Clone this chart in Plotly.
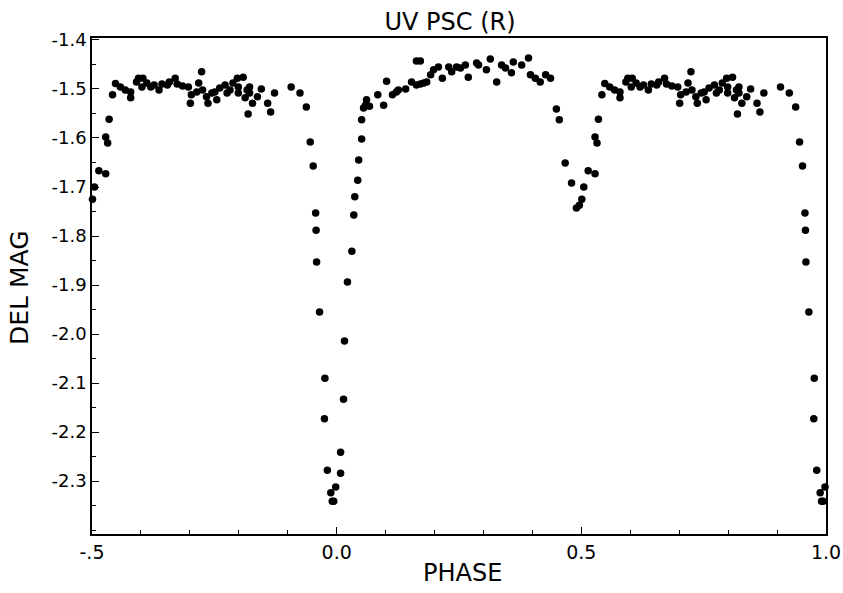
import plotly.graph_objects as go

# Base light-curve data, one cycle (phase -0.5 .. 0.5)
phase = [
    -0.499, -0.495, -0.486, -0.472, -0.472, -0.468, -0.465, -0.458, -0.452,
    -0.442, -0.432, -0.421, -0.421, -0.409, -0.405, -0.398, -0.396, -0.388,
    -0.380, -0.373, -0.363, -0.357, -0.346, -0.342, -0.330, -0.326, -0.315,
    -0.303, -0.299, -0.297, -0.286, -0.282, -0.276, -0.274, -0.266, -0.263,
    -0.255, -0.249, -0.245, -0.239, -0.228, -0.224, -0.218, -0.212, -0.203,
    -0.201, -0.201, -0.191, -0.187, -0.183, -0.181, -0.178, -0.178, -0.172,
    -0.162, -0.154, -0.141, -0.135, -0.127, -0.093, -0.075, -0.062, -0.054,
    -0.048, -0.043, -0.042, -0.041, -0.035, -0.024, -0.025, -0.019, -0.012,
    -0.009, -0.006, -0.002,
    0.008, 0.008, 0.014, 0.016, 0.022, 0.031, 0.035, 0.037, 0.043, 0.045,
    0.051, 0.051, 0.055, 0.059, 0.061, 0.067, 0.084, 0.096, 0.102, 0.114,
    0.122, 0.126, 0.141, 0.153, 0.163, 0.171, 0.163, 0.171, 0.178, 0.184,
    0.192, 0.198, 0.208, 0.216, 0.229, 0.235, 0.245, 0.253, 0.263, 0.269,
    0.286, 0.290, 0.306, 0.314, 0.327, 0.337, 0.345, 0.357, 0.361, 0.378,
    0.392, 0.396, 0.406, 0.416, 0.427, 0.437, 0.449, 0.455, 0.467, 0.480,
    0.490, 0.496,
]
del_mag = [
    -1.725, -1.700, -1.667, -1.673, -1.598, -1.610, -1.562, -1.512, -1.489,
    -1.496, -1.502, -1.518, -1.506, -1.486, -1.478, -1.496, -1.478, -1.488,
    -1.496, -1.492, -1.502, -1.490, -1.492, -1.486, -1.478, -1.490, -1.494,
    -1.496, -1.529, -1.512, -1.506, -1.488, -1.465, -1.502, -1.516, -1.529,
    -1.508, -1.506, -1.522, -1.498, -1.492, -1.508, -1.502, -1.488, -1.478,
    -1.496, -1.508, -1.476, -1.518, -1.502, -1.551, -1.496, -1.508, -1.529,
    -1.516, -1.500, -1.529, -1.547, -1.508, -1.496, -1.508, -1.537, -1.608,
    -1.657, -1.753, -1.788, -1.853, -1.955, -2.090, -2.173, -2.278, -2.324,
    -2.341, -2.341, -2.312,
    -2.284, -2.241, -2.133, -2.014, -1.894, -1.831, -1.757, -1.720, -1.686, -1.645,
    -1.602, -1.563, -1.539, -1.533, -1.522, -1.535, -1.512, -1.533, -1.484, -1.512,
    -1.506, -1.502, -1.500, -1.486, -1.443, -1.443, -1.492, -1.490, -1.488, -1.486,
    -1.471, -1.461, -1.455, -1.478, -1.455, -1.465, -1.455, -1.457, -1.451, -1.476,
    -1.447, -1.451, -1.461, -1.439, -1.486, -1.451, -1.457, -1.467, -1.445, -1.451,
    -1.437, -1.471, -1.478, -1.486, -1.471, -1.478, -1.541, -1.563, -1.651, -1.692,
    -1.743, -1.737,
]

x_tickvals = [-0.5, 0.0, 0.5, 1.0]
x_ticktext = ["-.5", "0.0", "0.5", "1.0"]
y_tickvals = [-1.4, -1.5, -1.6, -1.7, -1.8, -1.9, -2.0, -2.1, -2.2, -2.3]
y_ticktext = ["-1.4", "-1.5", "-1.6", "-1.7", "-1.8", "-1.9", "-2.0", "-2.1", "-2.2", "-2.3"]

# Phase-folded plot: points of phase -0.5..0 are repeated one cycle later
xs = list(phase) + [p + 1 for p in phase if p <= 0]
ys = list(del_mag) + [m for p, m in zip(phase, del_mag) if p <= 0]

fig = go.Figure()
fig.add_trace(go.Scatter(
    x=xs, y=ys, mode="markers",
    marker=dict(color="black", size=7.5, line=dict(width=0)),
    cliponaxis=False, showlegend=False,
))

font = "DejaVu Sans, Liberation Sans, sans-serif"
W, H = 843, 593
fig.update_layout(
    width=W, height=H,
    margin=dict(l=92, r=17, t=38, b=59, autoexpand=False),
    paper_bgcolor="white", plot_bgcolor="white",
    font=dict(family=font, color="black", size=18),
    title=dict(text="UV PSC (R)", x=450 / W, xanchor="center",
               y=1 - 22 / H, yanchor="middle",
               font=dict(family=font, size=24, color="black")),
    annotations=[
        dict(text="DEL MAG", xref="paper", yref="paper",
             x=(19 - 92) / 734, y=(534 - 288) / 496,
             xanchor="center", yanchor="middle", textangle=-90,
             showarrow=False, font=dict(family=font, size=25, color="black")),
        dict(text="PHASE", xref="paper", yref="paper",
             x=(462 - 92) / 734, y=(534 - 573) / 496,
             xanchor="center", yanchor="middle",
             showarrow=False, font=dict(family=font, size=24, color="black")),
    ],
)
fig.update_xaxes(
    range=[-0.5, 1.0], tickvals=x_tickvals, ticktext=x_ticktext,
    showgrid=False, zeroline=False, automargin=False,
    showline=True, linecolor="black", linewidth=1.5, mirror=True,
    ticks="inside", ticklen=7, tickwidth=1.2, tickcolor="black",
    minor=dict(dtick=0.1, tick0=-0.5, ticks="inside", ticklen=4, tickcolor="black", showgrid=False),
    tickfont=dict(size=19),
)
fig.update_yaxes(
    range=[-2.408, -1.396], tickvals=y_tickvals, ticktext=y_ticktext,
    showgrid=False, zeroline=False, automargin=False,
    showline=True, linecolor="black", linewidth=1.5, mirror=True,
    ticks="inside", ticklen=7, tickwidth=1.2, tickcolor="black",
    minor=dict(dtick=0.05, tick0=-1.4, ticks="inside", ticklen=4, tickcolor="black", showgrid=False),
    tickfont=dict(size=18),
)

fig.write_html(
    "out.html",
    config={"displayModeBar": False},
    post_script="document.body.style.margin='0px';document.body.style.overflow='hidden';",
)
